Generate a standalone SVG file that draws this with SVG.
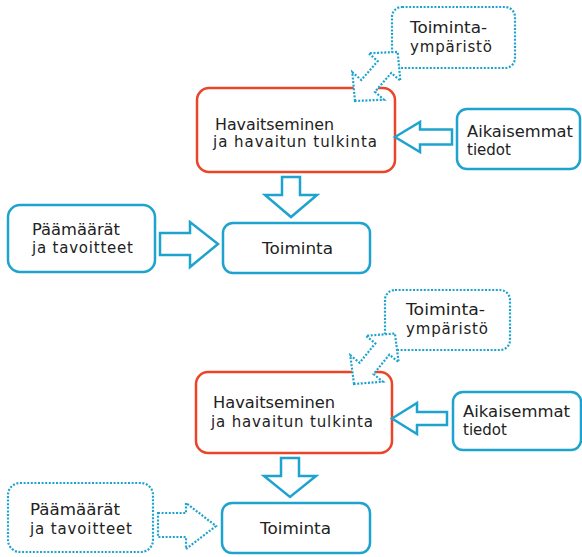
<svg xmlns="http://www.w3.org/2000/svg" width="582" height="557" viewBox="0 0 582 557">
<style>
.box{fill:#fff;stroke:#1ea3cf;stroke-width:2.5}
.red{fill:#fff;stroke:#ea4429;stroke-width:2.5}
.dot{fill:#fff;stroke:#1ea3cf;stroke-width:2.2;stroke-dasharray:2 1.6}
.arr{fill:#fff;stroke:#1ea3cf;stroke-width:2.5;stroke-linejoin:miter}
.darr{fill:#fff;stroke:#1ea3cf;stroke-width:2.2;stroke-dasharray:2 1.6}
text{font-family:"DejaVu Sans","Verdana",sans-serif;font-size:15px;fill:#222}
</style>
<rect width="582" height="557" fill="#fff"/>

<!-- top diagram -->
<g id="tym1"><rect class="dot" x="392" y="7" width="123" height="61" rx="10"/>
<text x="410" y="33" textLength="77" lengthAdjust="spacingAndGlyphs">Toiminta-</text>
<text x="410" y="52" textLength="82" lengthAdjust="spacing">ympäristö</text></g>
<g id="hav1"><rect class="red" x="197" y="88" width="198" height="84" rx="12"/>
<text x="215" y="130" textLength="119" lengthAdjust="spacingAndGlyphs">Havaitseminen</text>
<text x="213" y="147" textLength="164" lengthAdjust="spacing">ja havaitun tulkinta</text></g>
<g id="aik1"><rect class="box" x="457" y="109" width="123" height="60" rx="10"/>
<text x="467" y="137" textLength="106" lengthAdjust="spacingAndGlyphs">Aikaisemmat</text>
<text x="467" y="155">tiedot</text></g>
<g id="toi1"><rect class="box" x="223" y="223" width="147" height="50" rx="10"/>
<text x="262" y="254" textLength="71" lengthAdjust="spacingAndGlyphs">Toiminta</text></g>
<g id="paa1"><rect class="box" x="8" y="205" width="147" height="67" rx="12"/>
<text x="32" y="235" textLength="88" lengthAdjust="spacingAndGlyphs">Päämäärät</text>
<text x="32" y="253" textLength="101" lengthAdjust="spacing">ja tavoitteet</text></g>

<!-- bottom diagram -->
<g id="tym2"><rect class="dot" x="385" y="290" width="125" height="60" rx="10"/>
<text x="406" y="315" textLength="79" lengthAdjust="spacingAndGlyphs">Toiminta-</text>
<text x="406" y="334" textLength="82" lengthAdjust="spacing">ympäristö</text></g>
<g id="hav2"><rect class="red" x="196" y="372" width="196" height="81" rx="12"/>
<text x="213" y="408" textLength="122" lengthAdjust="spacingAndGlyphs">Havaitseminen</text>
<text x="211" y="427" textLength="162" lengthAdjust="spacing">ja havaitun tulkinta</text></g>
<g id="aik2"><rect class="box" x="453" y="392" width="128" height="58" rx="10"/>
<text x="463" y="417" textLength="107" lengthAdjust="spacingAndGlyphs">Aikaisemmat</text>
<text x="463" y="435">tiedot</text></g>
<g id="toi2"><rect class="box" x="222" y="503" width="148" height="50" rx="10"/>
<text x="260" y="534" textLength="71" lengthAdjust="spacingAndGlyphs">Toiminta</text></g>
<g id="paa2"><rect class="dot" x="8" y="483" width="145" height="69" rx="12"/>
<text x="30" y="515" textLength="90" lengthAdjust="spacingAndGlyphs">Päämäärät</text>
<text x="30" y="534" textLength="102" lengthAdjust="spacing">ja tavoitteet</text></g>

<g id="connectors">
<polygon class="arr" points="395,137 420,122 420,129.5 452,129.5 452,144.5 420,144.5 420,152"/>
<polygon class="arr" points="282,177 300,177 300,195 317,195 291,217 265,195 282,195"/>
<polygon class="arr" points="160,233 190,233 190,222 218,244 190,267 190,255 160,255"/>
<polygon class="darr" transform="translate(355,101) rotate(-49)" points="0,0 20,-21 20,-9 45,-9 45,-21 65,0 45,21 45,9 20,9 20,21"/>

<polygon class="arr" points="392,418.5 417,403 417,412 447,412 447,425 417,425 417,434"/>
<polygon class="arr" points="281,458 299,458 299,476 316,476 290,497 264,476 281,476"/>
<polygon class="darr" points="158,513 186,513 186,503 216,526 186,549 186,537 158,537"/>
<polygon class="darr" transform="translate(354,384) rotate(-51)" points="0,0 20,-21 20,-9 45,-9 45,-21 65,0 45,21 45,9 20,9 20,21"/>
</g>
</svg>
